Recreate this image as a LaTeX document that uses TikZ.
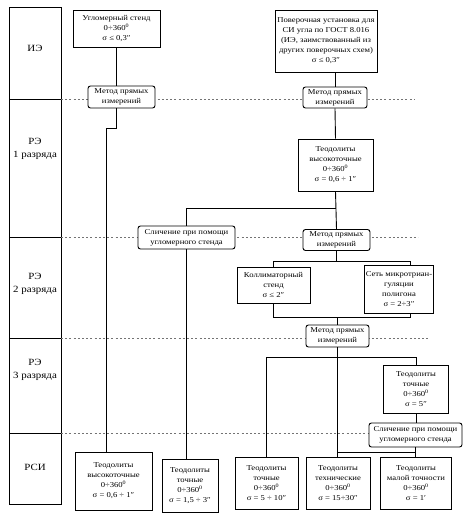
\documentclass[tikz,border=0pt]{standalone}
\usepackage{fontspec}
\setmainfont{Liberation Serif}[FakeStretch=1.15]
\usetikzlibrary{positioning}
\definecolor{dGray}{gray}{0.45}
\tikzset{
    blk/.style={draw, line width=0.9pt, fill=white, align=center, inner sep=1pt, font=\fontsize{7.5}{10}\selectfont},
    mtd/.style={blk, rounded corners=2.5pt},
    conn/.style={line width=0.9pt},
    dotl/.style={dGray, line width=0.7pt, dash pattern=on 2pt off 2.2pt},
    lvl/.style={align=center, font=\fontsize{9.5}{13}\selectfont}
}
\newcommand{\dg}{\textsuperscript{0}}

\begin{document}
\begin{tikzpicture}[x=1pt,y=-1pt]
\useasboundingbox (0,0) rectangle (466,522);
\draw[conn] (9,7) rectangle (61,504);
\draw[conn] (9,99)--(61,99);
\draw[conn] (9,237)--(61,237);
\draw[conn] (9,338)--(61,338);
\draw[conn] (9,433)--(61,433);
\node[lvl] (lIE) at (35,48) {ИЭ};
\node[lvl] (lR1) at (35,149) {РЭ\\1 разряда};
\node[lvl] (lR2) at (35,284) {РЭ\\2 разряда};
\node[lvl] (lR3) at (35,370) {РЭ\\3 разряда};
\node[lvl] (lRS) at (35,467) {РСИ};
\draw[dotl] (61,99) -- (415,99);
\draw[dotl] (61,237) -- (418,237);
\draw[dotl] (61,338) -- (430,338);
\draw[dotl] (61,433) -- (370,433);
\node[blk, minimum width=87, minimum height=37] (ugl) at (116.5,28.5) {Угломерный стенд\\0÷360\dg\\σ ≤ 0,3″};
\node[mtd, minimum width=67, minimum height=22] (m1) at (121.5,97) {Метод прямых\\измерений};
\node[blk, minimum width=102, minimum height=62] (pov) at (326,41) {Поверочная установка для\\СИ угла по ГОСТ 8.016\\(ИЭ, заимствованный из\\других поверочных схем)\\σ ≤ 0,3″};
\node[mtd, minimum width=64, minimum height=21] (m2) at (335,97.5) {Метод прямых\\измерений};
\node[blk, minimum width=75, minimum height=52] (thv) at (335.5,165) {Теодолиты\\высокоточные\\0÷360\dg\\σ = 0,6 ÷ 1″};
\node[mtd, minimum width=97, minimum height=23] (sl1) at (186.5,237.5) {Сличение при помощи\\угломерного стенда};
\node[mtd, minimum width=67, minimum height=21] (m3) at (336.5,240) {Метод прямых\\измерений};
\node[blk, minimum width=73, minimum height=36] (coll) at (273.5,285) {Коллиматорный\\стенд\\σ ≤ 2″};
\node[blk, minimum width=69, minimum height=48] (net) at (399,289) {Сеть микротриан-\\гуляции\\полигона\\σ = 2÷3″};
\node[mtd, minimum width=63, minimum height=22] (m4) at (337.5,336) {Метод прямых\\измерений};
\node[blk, minimum width=65, minimum height=48] (tt3) at (416,389) {Теодолиты\\точные\\0÷360\dg\\σ = 5″};
\node[mtd, minimum width=93, minimum height=24] (sl2) at (415.5,435) {Сличение при помощи\\угломерного стенда};
\node[blk, minimum width=77, minimum height=58] (tv1) at (113.5,481) {Теодолиты\\высокоточные\\0÷360\dg\\σ = 0,6 ÷ 1″};
\node[blk, minimum width=56, minimum height=53] (tt1) at (190,485.5) {Теодолиты\\точные\\0÷360\dg\\σ = 1,5 ÷ 3″};
\node[blk, minimum width=63, minimum height=52] (tt2) at (266.5,483) {Теодолиты\\точные\\0÷360\dg\\σ = 5 ÷ 10″};
\node[blk, minimum width=64, minimum height=52] (tth) at (338,483) {Теодолиты\\технические\\0÷360\dg\\σ = 15÷30″};
\node[blk, minimum width=71, minimum height=52] (tmt) at (416,483) {Теодолиты\\малой точности\\0÷360\dg\\σ = 1′};
% connectors
\coordinate (k1) at (106,128);
\coordinate (k2) at (0,208);
\coordinate (k3) at (0,261);
\coordinate (k4) at (0,317);
\coordinate (k5) at (0,357);
\coordinate (k6) at (0,452);
\draw[conn] (ugl.south) -- (ugl.south |- m1.north);
\draw[conn] (m1.south -| ugl.south) |- (k1) -- (k1 |- tv1.north);
\draw[conn] (m2.north |- pov.south) -- (m2.north);
\draw[conn] (m2.south) -- (thv.north);
\draw[conn] (thv.south) -- (m3.north);
\draw[conn] (thv.south |- k2) -| (sl1.north);
\draw[conn] (sl1.south) -- (sl1.south |- tt1.north);
\draw[conn] (m3.south) -- (m3.south |- k3);
\draw[conn] (coll.north) |- ([xshift=11]net.north |- k3) -- ([xshift=11]net.north);
\draw[conn] (coll.south) |- ([xshift=11]net.south |- k4) -- ([xshift=11]net.south);
\draw[conn] (m4.north |- k4) -- (m4.north);
\draw[conn] (m4.south) -- (m4.south |- tth.north);
\draw[conn] (tt2.north) |- (tt3.north |- k5) -- (tt3.north);
\draw[conn] (tt3.south) -- (tt3.south |- sl2.north);
\draw[conn] (sl2.south) -- (sl2.south |- tmt.north);
\draw[conn] (m4.south |- k6) -- (sl2.south |- k6);
\end{tikzpicture}
\end{document}
